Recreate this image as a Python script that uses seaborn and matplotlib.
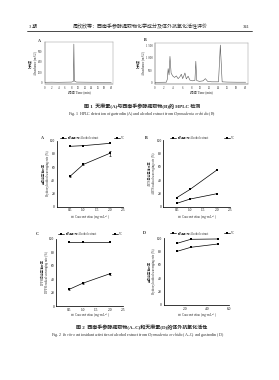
import numpy as np
import pandas as pd
import matplotlib
matplotlib.use("Agg")
import matplotlib.pyplot as plt
from matplotlib.lines import Line2D
import seaborn as sns

# ---------------- data ----------------
# Fig.1 HPLC traces (polyline vertices)
hplc_a_time = [0, 2, 4, 6, 8, 8.55, 8.7, 8.85, 9.5, 12, 16, 20]
hplc_a_int = [0, 1, 0, 1, 2, 8, 372, 12, 2, 1, 0, 0]
hplc_b_time = [0, 2.5, 2.7, 2.9, 3.1, 3.3, 3.55, 3.9, 4.3, 4.7, 5.1, 5.5, 5.8,
               6.1, 6.6, 6.9, 7.3, 7.7, 8.3, 8.8, 9.0, 9.2, 9.8, 10.6, 11.1,
               11.6, 12.5, 14.0, 14.4, 14.8, 16, 18, 20]
hplc_b_int = [0, 5, 120, 560, 300, 1060, 380, 260, 200, 260, 150, 230, 330,
              150, 380, 140, 250, 90, 60, 80, 860, 70, 40, 60, 150,
              40, 20, 20, 1520, 20, 10, 5, 5]
hplc_a_yticks = [0, 100, 200, 300]
hplc_b_yticks = [0, 500, 1000, 1500]
hplc_b_yticklabels = ["0", "500", "1 000", "1 500"]
hplc_xticks = [0, 2, 4, 6, 8, 10, 12, 14, 16, 18, 20]

# Fig.2 antioxidant activities
conc_abc = [0.5, 1.0, 2.0]
a_alcohol = [46, 64, 81]
a_alcohol_err = [1.0, 1.5, 3.5]
a_vc = [91.5, 92.5, 96]
b_alcohol = [5, 11.5, 19.5]
b_vc = [13.5, 26, 55]
c_alcohol = [25, 34, 48]
c_alcohol_err = [1.5, 0.8, 2.0]
c_vc = [96, 96, 96]
conc_d = [1.25, 2.5, 5.0]
d_alcohol = [80.5, 86.5, 91.5]
d_vc = [92.5, 98.5, 99]
xticks_abc = [0.5, 1.0, 1.5, 2.0, 2.5]
xticks_d = [2.0, 4.0, 6.0]
yticks_rate = [0, 20, 40, 60, 80, 100]
series_names = ["醇提取物 Alcohol extract", "VC"]

ylabels = {
    "A": "羟自由基清除率\nHydroxyl radical scavenging rate (%)",
    "B": "ABTS自由基清除率\nABTS radical scavenging rate (%)",
    "C": "DPPH自由基清除率\nDPPH radical scavenging rate (%)",
    "D": "羟自由基清除率\nHydroxyl radical scavenging rate (%)",
}
xlabel_conc = "浓度 Concentration (mg·mL$^{-1}$)"

# ---------------- style ----------------
sns.set_theme(style="white")
plt.rcParams["font.family"] = ["Liberation Serif", "Noto Sans CJK SC", "DejaVu Sans"]
plt.rcParams["mathtext.fontset"] = "stix"
plt.rcParams["axes.unicode_minus"] = False

W, H = 279, 380
fig = plt.figure(figsize=(W / 100, H / 100), dpi=100)
fig.patch.set_facecolor("white")


def add_ax(l, t, r, b):
    return fig.add_axes([l / W, 1 - b / H, (r - l) / W, (b - t) / H])


def ftext(x, y, s, **kw):
    fig.text(x / W, 1 - y / H, s, **kw)


# ---------------- header ----------------
ftext(29, 26.5, "3 期", fontsize=3.3, va="center", ha="left")
ftext(140.5, 26.5, "周欣欣等：西南手参醇提取物化学成分及体外抗氧化活性评价",
      fontsize=3.6, va="center", ha="center")
ftext(250, 26.5, "341", fontsize=3.3, va="center", ha="right")
fig.add_artist(Line2D([26.7 / W, 251.7 / W], [1 - 30.7 / H, 1 - 30.7 / H],
                      color="black", lw=0.5))

# ---------------- Fig.1 HPLC ----------------
def hplc(ax, t, y, yticks, ylabels_, ymax, letter, lx, ly):
    df = pd.DataFrame({"t": t, "y": y})
    sns.lineplot(data=df, x="t", y="y", ax=ax, color="#555555", lw=0.4)
    ax.set_xlim(0, 20.5)
    ax.set_ylim(-ymax * 0.03, ymax)
    ax.set_xticks(hplc_xticks)
    ax.set_xticklabels([str(v) for v in hplc_xticks])
    ax.set_yticks(yticks)
    ax.set_yticklabels(ylabels_)
    ax.tick_params(labelsize=2.2, length=1.2, width=0.3, pad=0.6,
                   direction="out", colors="#333333")
    for s in ax.spines.values():
        s.set_linewidth(0.35)
        s.set_color("#999999")
    ax.spines["left"].set_color("#333333")
    ax.spines["bottom"].set_color("#333333")
    ax.set_xlabel("")
    ax.set_ylabel("")
    ftext(lx, ly, letter, fontsize=3, fontweight="bold", va="center", ha="center")


axh1 = add_ax(45, 41.7, 113, 83.5)
hplc(axh1, hplc_a_time, hplc_a_int, hplc_a_yticks,
     [str(v) for v in hplc_a_yticks], 395, "A", 39, 40.5)
axh2 = add_ax(155, 43.3, 248, 83.5)
hplc(axh2, hplc_b_time, hplc_b_int, hplc_b_yticks,
     hplc_b_yticklabels, 1590, "B", 145.5, 40)
ftext(79, 93.3, "时间 Time (min)", fontsize=2.4, ha="center", va="center")
ftext(201, 93.3, "时间 Time (min)", fontsize=2.4, ha="center", va="center")
ftext(32.5, 63, "吸光度\nAbsorbance (mAU)", fontsize=2.2, rotation=90,
      ha="center", va="center", linespacing=1.1)
ftext(140.5, 63, "吸光度\nAbsorbance (mAU)", fontsize=2.2, rotation=90,
      ha="center", va="center", linespacing=1.1)

ftext(142, 106, "图 1  天麻素(A)与西南手参醇提取物(B)的 HPLC 检测",
      fontsize=3.6, ha="center", va="center", fontweight="bold")
ftext(142, 114, "Fig. 1  HPLC detection of gastrodin (A) and alcohol extract from "
      "$\\it{Gymnadenia\\ orchidis}$ (B)", fontsize=2.9, ha="center", va="center")


# ---------------- Fig.2 panels ----------------
def panel(ax, x, alc, vc, alc_err, xlim, xticks, letter, lx, ly, legx, legy, ylab, ylabx):
    df = pd.DataFrame({
        "conc": list(x) * 2,
        "rate": list(alc) + list(vc),
        "series": [series_names[0]] * len(x) + [series_names[1]] * len(x),
    })
    sns.lineplot(data=df, x="conc", y="rate", hue="series", style="series",
                 markers=["s", "s"], dashes=False, palette=["black", "black"],
                 lw=0.5, markersize=2.0, markeredgewidth=0, ax=ax, legend=False)
    handles = list(ax.lines[:2])
    if alc_err is not None:
        ax.errorbar(x, alc, yerr=alc_err, fmt="none", ecolor="black",
                    elinewidth=0.4, capsize=0.8, capthick=0.4)
    ax.set_xlim(*xlim)
    ax.set_ylim(0, 100)
    ax.set_xticks(xticks)
    ax.set_xticklabels([f"{v:.1f}" for v in xticks])
    ax.set_yticks(yticks_rate)
    ax.set_yticklabels([str(v) for v in yticks_rate])
    ax.tick_params(labelsize=2.6, length=1.2, width=0.4, pad=1.2,
                   direction="in", colors="black")
    sns.despine(ax=ax)
    for s in ["left", "bottom"]:
        ax.spines[s].set_linewidth(0.55)
        ax.spines[s].set_color("black")
    ax.set_xlabel("")
    ax.set_ylabel("")
    ftext(lx, ly, letter, fontsize=3, fontweight="bold", va="center", ha="center")
    fig.legend(handles, series_names, loc="center left",
               bbox_to_anchor=(legx / W, 1 - legy / H), ncol=2, frameon=False,
               fontsize=2.1, handlelength=2.2, handletextpad=0.4,
               columnspacing=5.5, borderaxespad=0, borderpad=0)
    ftext(ylabx, (ax.get_position().y0 + ax.get_position().y1) / 2 * -H + H,
          ylab, fontsize=2.2, rotation=90, ha="center", va="center", linespacing=1.15)


axA = add_ax(56.7, 140.7, 123.3, 206.7)
panel(axA, conc_abc, a_alcohol, a_vc, a_alcohol_err, (0, 2.5), xticks_abc,
      "A", 42.7, 138, 60, 138, ylabels["A"], 46)
axB = add_ax(163.3, 140.3, 230, 206.7)
panel(axB, conc_abc, b_alcohol, b_vc, None, (0, 2.5), xticks_abc,
      "B", 146, 138, 170, 138, ylabels["B"], 152)
axC = add_ax(56, 239, 123, 306)
panel(axC, conc_abc, c_alcohol, c_vc, c_alcohol_err, (0, 2.5), xticks_abc,
      "C", 37.5, 234, 58, 234, ylabels["C"], 45)
axD = add_ax(163.5, 238.3, 229, 305)
panel(axD, conc_d, d_alcohol, d_vc, None, (0, 6.0), xticks_d,
      "D", 144, 233.5, 170, 233.5, ylabels["D"], 152)

ftext(90, 217, xlabel_conc, fontsize=2.3, ha="center", va="center")
ftext(197, 217, xlabel_conc, fontsize=2.3, ha="center", va="center")
ftext(90, 315, xlabel_conc, fontsize=2.3, ha="center", va="center")
ftext(197, 315, xlabel_conc, fontsize=2.3, ha="center", va="center")

ftext(141.5, 327.7, "图 2  西南手参醇提取物(A–C)和天麻素(D)的体外抗氧化活性",
      fontsize=3.6, ha="center", va="center", fontweight="bold")
ftext(137.5, 334.8, "Fig. 2  $\\it{In\\ vitro}$ antioxidant activities of alcohol extract from "
      "$\\it{Gymnadenia\\ orchidis}$ (A–C) and gastrodin (D)",
      fontsize=2.9, ha="center", va="center")

fig.savefig("out.png", dpi=100, facecolor="white")
